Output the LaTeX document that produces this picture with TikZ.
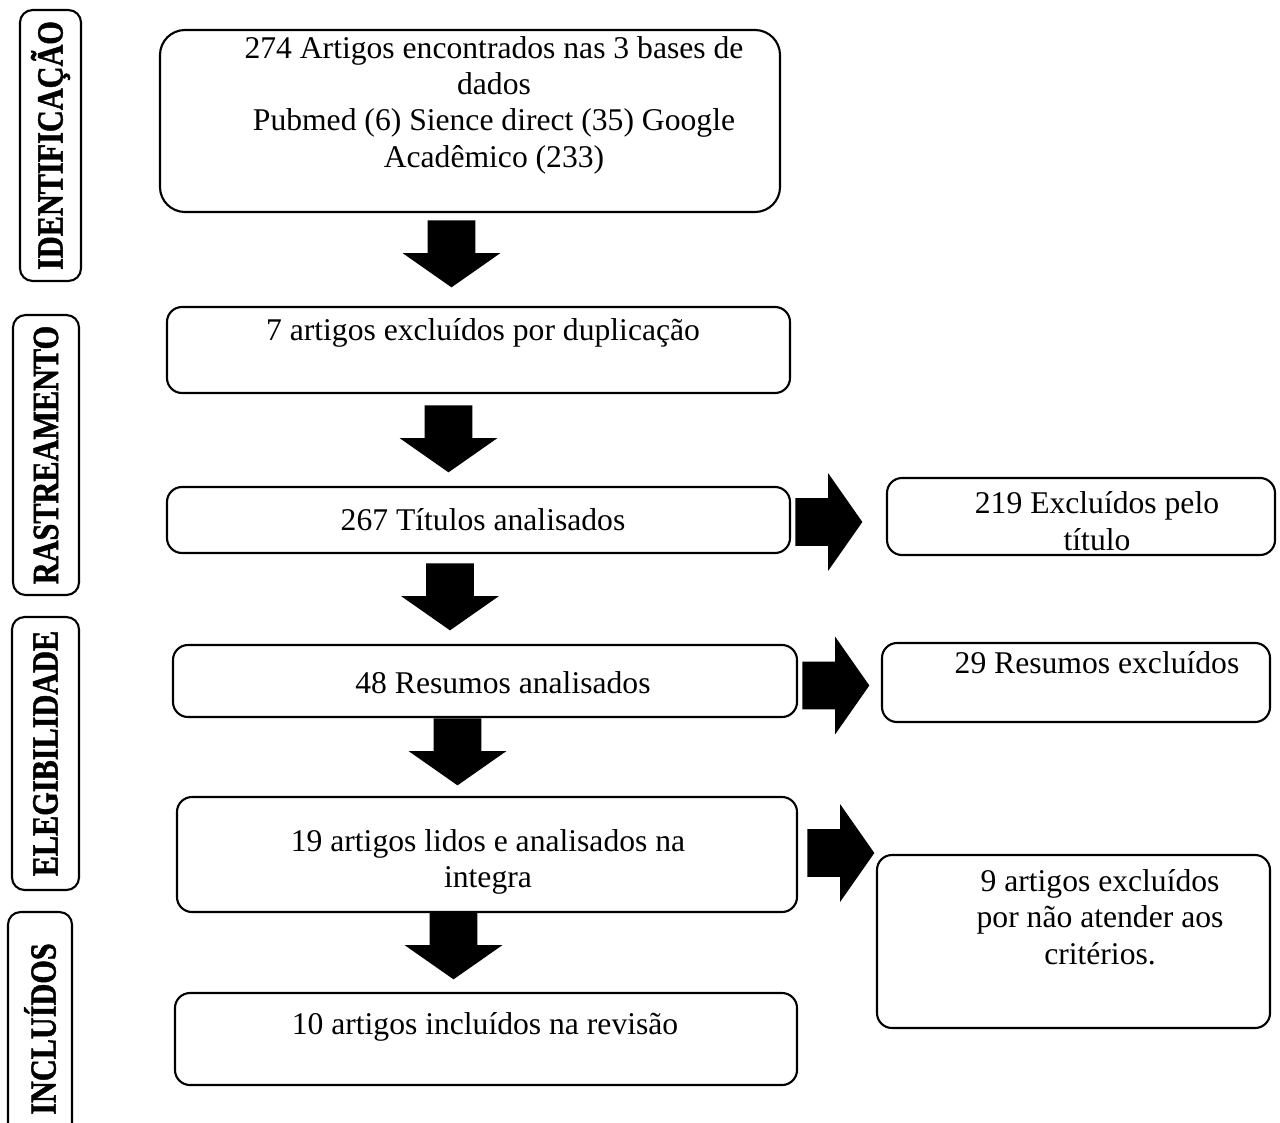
\documentclass[tikz,border=0pt]{standalone}
\usepackage{fontspec}
\setmainfont{Liberation Serif}
\newfontfamily\stagefont[FakeStretch=0.82,FakeBold=1.2]{Liberation Serif}
\usetikzlibrary{shapes.arrows,fit,positioning}

\tikzset{
    box/.style={draw, line width=1.2pt, rounded corners=0.3cm, inner sep=0pt},
    txt/.style={align=center, font=\fontsize{18}{20.7}\selectfont},
    stage/.style={draw, line width=1.2pt, rounded corners=0.25cm, rotate=90, inner sep=0pt,
        font=\stagefont\fontsize{21}{22}\selectfont\bfseries},
    blockarrow/.style={single arrow, fill=black, draw=none, inner sep=0.47cm,
        minimum height=1.34cm,
        single arrow head extend=0.5cm, single arrow tip angle=110},
    downarrow/.style={blockarrow, shape border rotate=270, anchor=tail},
    rightarrow/.style={blockarrow, anchor=tail}
}

\begin{document}
\begin{tikzpicture}[x=0.02cm, y=-0.02cm]
    \useasboundingbox (0,0) rectangle (1280,1122);

    % fases
    \node[stage, minimum width=5.42cm, minimum height=1.22cm] at (50.5,145.5) (identificacao) {IDENTIFICAÇÃO};
    \node[stage, minimum width=5.6cm, minimum height=1.32cm] at (46,455) (rastreamento) {RASTREAMENTO};
    \node[stage, minimum width=5.46cm, minimum height=1.34cm] at (45.5,753.5) (elegibilidade) {ELEGIBILIDADE};
    \node[stage, minimum width=4.68cm, minimum height=1.28cm] at (40,1029) (incluidos) {INCLUÍDOS};

    % caixas
    \node[box, rounded corners=0.5cm, fit={(160,30) (780,212)}] (busca) {};
    \node[txt] at (494,105) (t_busca) {274 Artigos encontrados nas 3 bases de\\ dados\\ Pubmed (6) Sience direct (35) Google\\ Acadêmico (233)};

    \node[box, fit={(167,307) (790,393)}] (duplicados) {};
    \node[txt] at (483,333) (t_duplicados) {7 artigos excluídos por duplicação};

    \node[box, fit={(167,487) (790,553)}] (titulos) {};
    \node[txt] at (483,520) (t_titulos) {267 Títulos analisados};

    \node[box, fit={(887,478) (1275,555)}] (exc_titulos) {};
    \node[txt] at (1097,521) (t_exc_titulos) {219 Excluídos pelo\\ título};

    \node[box, fit={(173,645) (797,717)}] (resumos) {};
    \node[txt] at (503,683) (t_resumos) {48 Resumos analisados};

    \node[box, fit={(882,643) (1270,722)}] (exc_resumos) {};
    \node[txt] at (1097,663) (t_exc_resumos) {29 Resumos excluídos};

    \node[box, fit={(177,797) (797,912)}] (integra) {};
    \node[txt] at (488,862) (t_integra) {19 artigos lidos e analisados na\\ integra};

    \node[box, fit={(877,855) (1270,1028)}] (exc_integra) {};
    \node[txt] at (1100,917) (t_exc_integra) {9 artigos excluídos\\ por não atender aos\\ critérios.};

    \node[box, fit={(175,993) (797,1085)}] (revisao) {};
    \node[txt] at (485,1027) (t_revisao) {10 artigos incluídos na revisão};

    % setas
    \node[downarrow] at (451.5,220) (seta_busca) {};
    \node[downarrow] at (448.5,405) (seta_duplicados) {};
    \node[downarrow] at (450,563) (seta_titulos) {};
    \node[downarrow] at (457.5,718) (seta_resumos) {};
    \node[downarrow] at (453.5,912) (seta_integra) {};
    \node[rightarrow] at (795,522) (seta_exc_titulos) {};
    \node[rightarrow] at (802,685.5) (seta_exc_resumos) {};
    \node[rightarrow] at (807,853) (seta_exc_integra) {};
\end{tikzpicture}
\end{document}
